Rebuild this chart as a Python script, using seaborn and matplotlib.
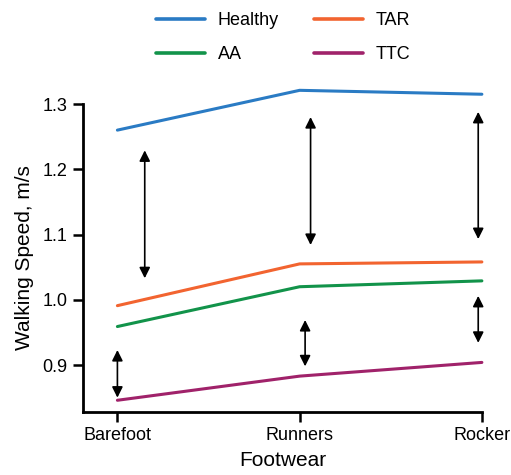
import matplotlib
matplotlib.use("Agg")
import matplotlib.pyplot as plt
import seaborn as sns
import pandas as pd

footwear = ["Barefoot", "Runners", "Rocker"]
healthy = [1.260, 1.321, 1.315]
tar = [0.991, 1.055, 1.058]
aa = [0.959, 1.020, 1.029]
ttc = [0.846, 0.883, 0.904]
groups = ["Healthy", "AA", "TAR", "TTC"]
colors = {"Healthy": "#2a7bc4", "TAR": "#f26430", "AA": "#12934a", "TTC": "#a0226a"}

# double-headed arrows (x position, y start, y end) in data units
arrows_x = [0.15, 0.0, 1.06, 1.03, 1.98, 1.98]
arrows_y0 = [1.229, 0.923, 1.280, 0.969, 1.288, 1.006]
arrows_y1 = [1.033, 0.850, 1.084, 0.898, 1.093, 0.934]

sns.set_theme(style="ticks")
plt.rcParams['font.family'] = ['Liberation Sans', 'DejaVu Sans']
plt.rcParams['text.color'] = 'black'
plt.rcParams['axes.labelcolor'] = 'black'
plt.rcParams['xtick.color'] = 'black'
plt.rcParams['ytick.color'] = 'black'
plt.rcParams['axes.edgecolor'] = 'black'

rows = []
for g, vals in zip(["Healthy", "TAR", "AA", "TTC"], [healthy, tar, aa, ttc]):
    for i, (f, v) in enumerate(zip(footwear, vals)):
        rows.append({"group": g, "x": i, "speed": v})
df = pd.DataFrame(rows)

fig = plt.figure(figsize=(5.11, 4.75), dpi=100)
ax = fig.add_axes([0.162, 0.1326, 0.781, 0.6484])

sns.lineplot(data=df, x="x", y="speed", hue="group", hue_order=groups,
             palette=colors, linewidth=2.2, ax=ax)
for line in ax.lines:
    line.set_clip_on(False)

for x, y0, y1 in zip(arrows_x, arrows_y0, arrows_y1):
    ax.annotate("", xy=(x, y1), xytext=(x, y0),
                arrowprops=dict(arrowstyle="<|-|>", color="black", lw=1.2,
                                mutation_scale=16, shrinkA=0, shrinkB=0),
                annotation_clip=False)

ax.set_xlim(-0.19, 2.0)
ax.set_ylim(0.828, 1.3)
ax.set_xticks([0, 1, 2])
ax.set_xticklabels(footwear, fontsize=13)
ax.set_yticks([0.9, 1.0, 1.1, 1.2, 1.3])
ax.set_yticklabels(["0.9", "1.0", "1.1", "1.2", "1.3"], fontsize=13)
ax.set_xlabel("Footwear", fontsize=15, labelpad=5)
ax.set_ylabel("Walking Speed, m/s", fontsize=15, labelpad=6)
ax.tick_params(length=7, width=1.8, direction="out", pad=4)
for s in ["left", "bottom"]:
    ax.spines[s].set_linewidth(2)
ax.spines["top"].set_visible(False)
ax.spines["right"].set_visible(False)

handles, labels = ax.get_legend_handles_labels()
for h in handles:
    h.set_linewidth(2.6)
ax.legend(handles, labels, ncol=2, loc="upper left",
          bbox_to_anchor=(0.274, 1.008), bbox_transform=fig.transFigure,
          frameon=False, fontsize=13,
          handlelength=2.7, columnspacing=1.97, labelspacing=0.93, handletextpad=0.7)

fig.savefig("out.png", dpi=100)
